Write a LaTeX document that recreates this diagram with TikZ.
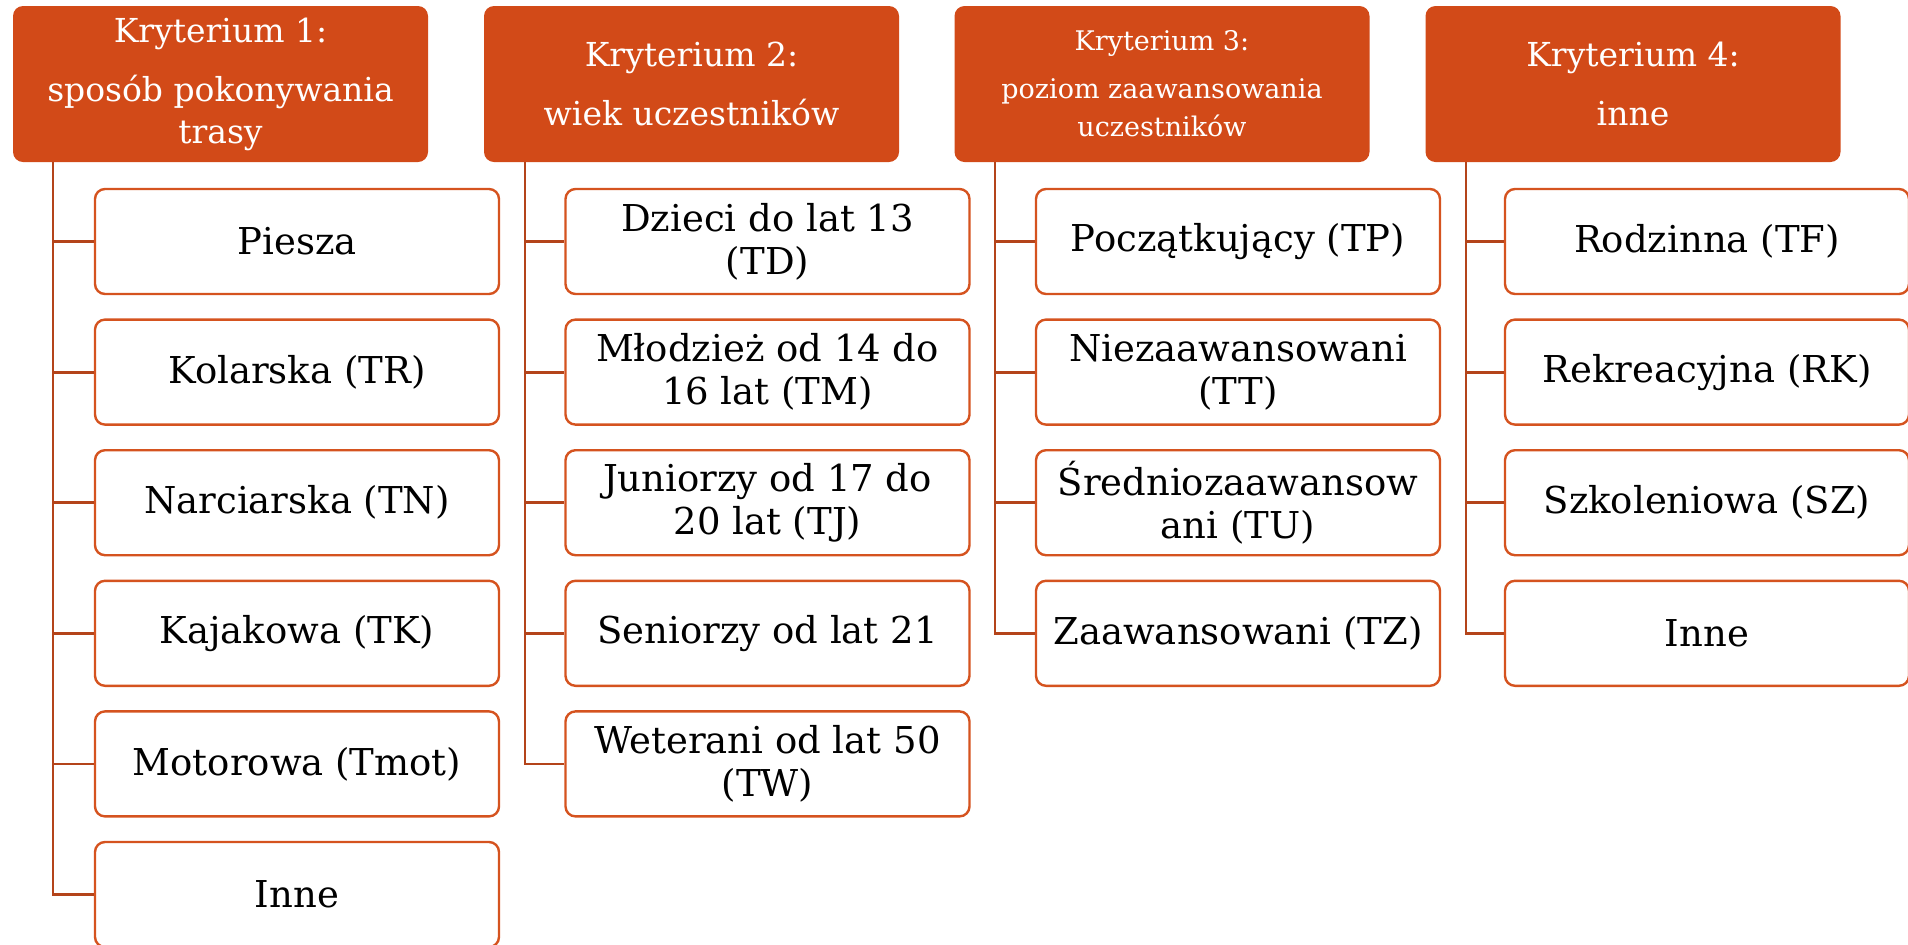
\documentclass[tikz,border=0pt]{standalone}
\usepackage{fontspec}
\setmainfont{DejaVu Serif}
\definecolor{hdrfill}{HTML}{D24A18}
\definecolor{boxline}{HTML}{D5531F}
\definecolor{connline}{HTML}{B4441A}
\tikzset{
  hdr/.style={fill=hdrfill, draw=none, rounded corners=5pt, minimum width=207.5pt, minimum height=78pt,
    text=white, align=center, inner sep=0pt, font=\fontsize{16.5}{21}\selectfont},
  child/.style={draw=boxline, line width=1.2pt, fill=white, rounded corners=5pt, minimum width=202pt,
    minimum height=52.5pt, align=center, inner sep=0pt, font=\fontsize{18.5}{21.5}\selectfont},
  conn/.style={draw=connline, line width=1.4pt}
}
\begin{document}
\begin{tikzpicture}[x=0.5pt,y=-0.5pt]
\useasboundingbox (0,0) rectangle (1908,944);
% headers
\node[hdr] (h1) at (220.5,84) {Kryterium 1:\\[8.5pt]sposób pokonywania\\trasy};
\node[hdr] (h2) at (691.5,84) {Kryterium 2:\\[8.5pt]wiek uczestników};
\node[hdr, font=\fontsize{13.5}{19}\selectfont] (h3) at (1162,84) {Kryterium 3:\\[5pt]poziom zaawansowania\\uczestników};
\node[hdr] (h4) at (1633,84) {Kryterium 4:\\[8.5pt]inne};
% column 1
\node[child] (a1) at (297,241.5) {Piesza};
\node[child] (a2) at (297,372.1) {Kolarska (TR)};
\node[child] (a3) at (297,502.7) {Narciarska (TN)};
\node[child] (a4) at (297,633.3) {Kajakowa (TK)};
\node[child] (a5) at (297,763.9) {Motorowa (Tmot)};
\node[child] (a6) at (297,894.5) {Inne};
% column 2
\node[child] (b1) at (767.5,241.5) {Dzieci do lat 13\\(TD)};
\node[child] (b2) at (767.5,372.1) {Młodzież od 14 do\\16 lat (TM)};
\node[child] (b3) at (767.5,502.7) {Juniorzy od 17 do\\20 lat (TJ)};
\node[child] (b4) at (767.5,633.3) {Seniorzy od lat 21};
\node[child] (b5) at (767.5,763.9) {Weterani od lat 50\\(TW)};
% column 3
\node[child] (c1) at (1238,241.5) {Początkujący (TP)};
\node[child] (c2) at (1238,372.1) {Niezaawansowani\\(TT)};
\node[child] (c3) at (1238,502.7) {Średniozaawansow\\ani (TU)};
\node[child] (c4) at (1238,633.3) {Zaawansowani (TZ)};
% column 4
\node[child] (d1) at (1707,241.5) {Rodzinna (TF)};
\node[child] (d2) at (1707,372.1) {Rekreacyjna (RK)};
\node[child] (d3) at (1707,502.7) {Szkoleniowa (SZ)};
\node[child] (d4) at (1707,633.3) {Inne};
% trunk coordinates
\coordinate (v1) at (53,162);
\coordinate (v2) at (525,162);
\coordinate (v3) at (995,162);
\coordinate (v4) at (1466,162);
% connectors
\foreach \n in {a1,a2,a3,a4,a5,a6} \draw[conn] (v1) |- (\n.west);
\foreach \n in {b1,b2,b3,b4,b5} \draw[conn] (v2) |- (\n.west);
\foreach \n in {c1,c2,c3,c4} \draw[conn] (v3) |- (\n.west);
\foreach \n in {d1,d2,d3,d4} \draw[conn] (v4) |- (\n.west);
\end{tikzpicture}
\end{document}
